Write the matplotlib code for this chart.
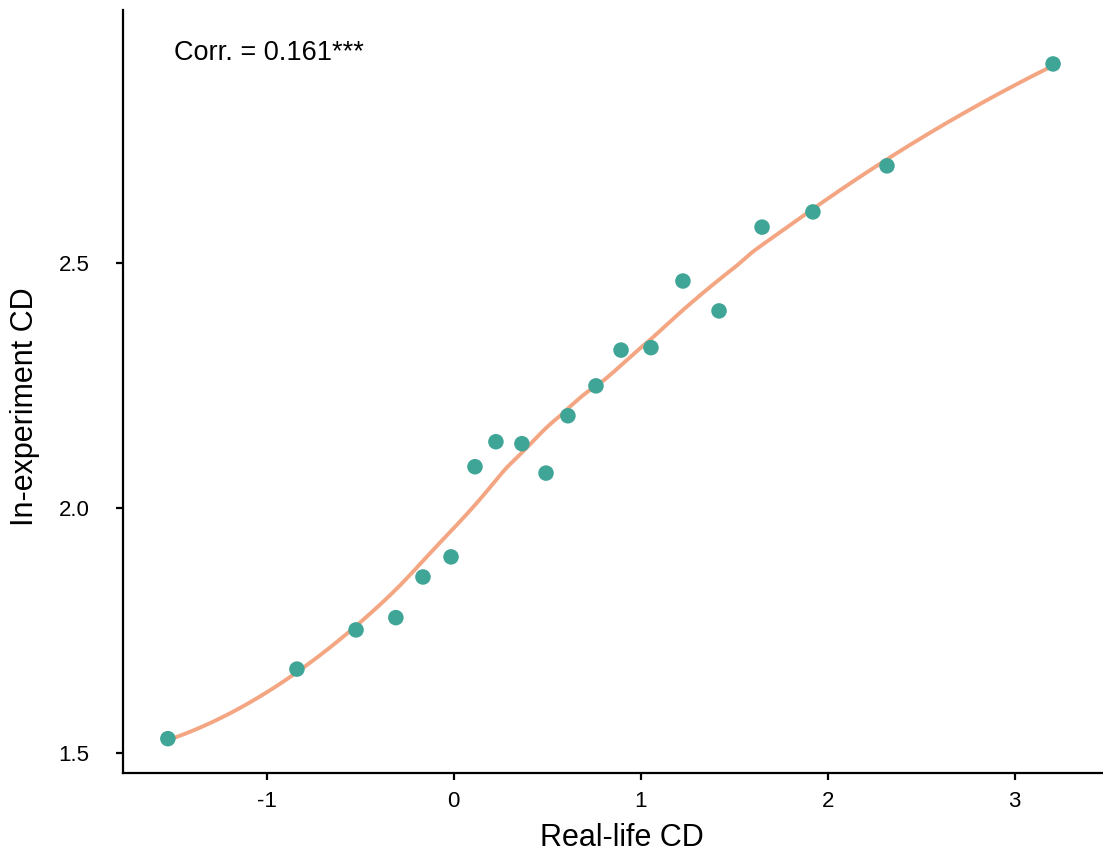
import numpy as np
import matplotlib
matplotlib.use("Agg")
import matplotlib.pyplot as plt

plt.rcParams["font.family"] = ["Liberation Sans", "DejaVu Sans"]
plt.rcParams["axes.unicode_minus"] = False

real_life = [-1.528, -0.838, -0.522, -0.309, -0.164, -0.014, 0.114, 0.226, 0.365, 0.494,
             0.611, 0.761, 0.895, 1.055, 1.226, 1.419, 1.649, 1.921, 2.317, 3.205]
in_exp = [1.529, 1.671, 1.751, 1.776, 1.859, 1.900, 2.084, 2.135, 2.131, 2.071,
          2.188, 2.249, 2.322, 2.327, 2.463, 2.402, 2.573, 2.604, 2.698, 2.906]
corr_label = "Corr. = 0.161***"

x = np.array(real_life)
y = np.array(in_exp)


# local quadratic regression with tricube weights (loess, span 0.75)
def loess(x, y, grid, span=0.75):
    n = len(x)
    q = int(np.floor(n * span))
    out = []
    for g in grid:
        d = np.abs(x - g)
        h = np.sort(d)[q - 1]
        w = np.clip(1 - (d / h) ** 3, 0, None) ** 3
        X = np.column_stack([np.ones(n), x - g, (x - g) ** 2])
        W = np.diag(w)
        beta = np.linalg.solve(X.T @ W @ X, X.T @ W @ y)
        out.append(beta[0])
    return np.array(out)


grid = np.linspace(x.min(), x.max(), 200)
fit = loess(x, y, grid)

fig = plt.figure(figsize=(11.03, 8.58), dpi=100)
ax = fig.add_axes([0.1115, 0.0991, 0.8885, 0.8892])

ax.plot(grid, fit, color="#F4A582", lw=2.8, zorder=2)
ax.scatter(x, y, s=125, color="#3FA596", edgecolors="none", zorder=3)

ax.text(0.052, 0.944, corr_label, transform=ax.transAxes, fontsize=19.5,
        ha="left", va="center")

ax.set_xlim(-1.768, 3.472)
ax.set_ylim(1.459, 3.016)
ax.set_xticks([-1, 0, 1, 2, 3])
ax.set_yticks([1.5, 2.0, 2.5])
ax.set_yticklabels(["1.5", "2.0", "2.5"])

for s in ["top", "right"]:
    ax.spines[s].set_visible(False)
for s in ["left", "bottom"]:
    ax.spines[s].set_linewidth(1.6)
ax.tick_params(width=1.6, length=5, labelsize=16)
ax.tick_params(axis="x", pad=8)
ax.tick_params(axis="y", pad=19)

ax.set_xlabel("Real-life CD", fontsize=22, va="center")
ax.set_ylabel("In-experiment CD", fontsize=22, va="center")
ax.xaxis.set_label_coords(0.509, -0.085)
ax.yaxis.set_label_coords(-0.1, 0.48)

fig.savefig("out.png", dpi=100)
